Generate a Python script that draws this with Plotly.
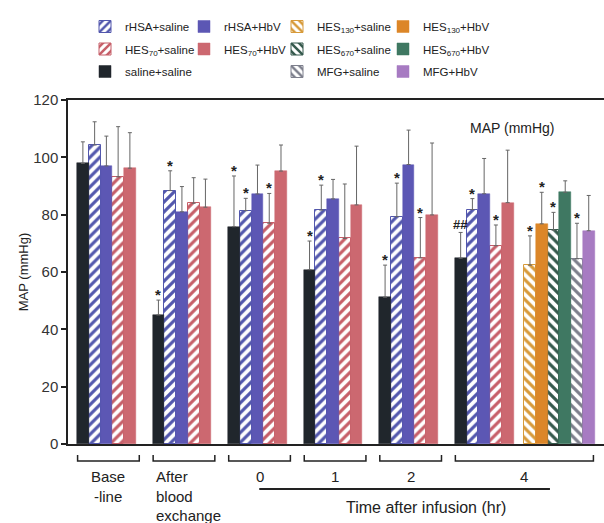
import plotly.graph_objects as go

# ---------------- data ----------------
group_labels = ["Base<br>-line", "After<br>blood<br>exchange", "0", "1", "2", "4"]

saline_saline = [97.9, 45.0, 75.8, 60.8, 51.2, 64.8]
saline_saline_err = [7.5, 5.2, 17.7, 10.0, 11.2, 9.0]
saline_saline_mark = ["", "*", "*", "*", "*", "##"]

rhsa_saline = [104.3, 88.4, 81.4, 81.6, 79.3, 81.8]
rhsa_saline_err = [8.1, 6.9, 4.3, 8.7, 11.7, 3.8]
rhsa_saline_mark = ["", "*", "*", "*", "*", "*"]

rhsa_hbv = [97.0, 81.0, 87.2, 85.5, 97.5, 87.3]
rhsa_hbv_err = [10.4, 8.8, 10.1, 6.8, 12.0, 12.3]
rhsa_hbv_mark = ["", "", "", "", "", ""]

hes70_saline = [93.2, 84.0, 77.0, 71.7, 64.9, 69.2]
hes70_saline_err = [17.5, 8.9, 10.4, 19.0, 14.1, 7.2]
hes70_saline_mark = ["", "", "*", "", "*", "*"]

hes70_hbv = [96.2, 82.6, 95.2, 83.4, 79.9, 84.2]
hes70_hbv_err = [12.4, 9.8, 9.1, 20.5, 25.1, 18.3]
hes70_hbv_mark = ["", "", "", "", "", ""]

# measured at 4 hr only
hes130_saline = [62.4]
hes130_saline_err = [10.2]
hes130_saline_mark = ["*"]
hes130_hbv = [76.8]
hes130_hbv_err = [11.0]
hes130_hbv_mark = ["*"]
hes670_saline = [74.6]
hes670_saline_err = [6.2]
hes670_saline_mark = ["*"]
hes670_hbv = [87.8]
hes670_hbv_err = [4.0]
hes670_hbv_mark = [""]
mfg_saline = [64.6]
mfg_saline_err = [12.4]
mfg_saline_mark = ["*"]
mfg_hbv = [74.4]
mfg_hbv_err = [12.3]
mfg_hbv_mark = [""]

# ---------------- layout helpers ----------------
W, H = 604, 523
ML, MR, MT, MB = 68, 0, 100, 79
PW, PH = W - ML - MR, H - MT - MB
GROUP_STEP = 6.43     # in bar widths
EXTRA_GAP = 0.9
X_RANGE = [-0.766, 44.85]
FONT = "Liberation Sans, Arial, sans-serif"
INK = "#222222"


def py2paper(py):
    return (H - MB - py) / PH


def px2paper(px):
    return (px - ML) / PW


group_start = [i * GROUP_STEP for i in range(len(group_labels))]
all_groups = list(range(len(group_labels)))
last = [len(group_labels) - 1]

series = [
    # name, values, errs, marks, groups, slot, colour, pattern, legend
    ("rHSA+saline", rhsa_saline, rhsa_saline_err, rhsa_saline_mark, all_groups, 1, "#5257ad", "/", "legend"),
    ("HES<sub>70</sub>+saline", hes70_saline, hes70_saline_err, hes70_saline_mark, all_groups, 3, "#c65e68", "/", "legend"),
    ("saline+saline", saline_saline, saline_saline_err, saline_saline_mark, all_groups, 0, "#20262c", "", "legend"),
    ("rHSA+HbV", rhsa_hbv, rhsa_hbv_err, rhsa_hbv_mark, all_groups, 2, "#5c57b4", "", "legend2"),
    ("HES<sub>70</sub>+HbV", hes70_hbv, hes70_hbv_err, hes70_hbv_mark, all_groups, 4, "#cc6870", "", "legend2"),
    ("HES<sub>130</sub>+saline", hes130_saline, hes130_saline_err, hes130_saline_mark, last, 5, "#d79a3a", "\\", "legend3"),
    ("HES<sub>670</sub>+saline", hes670_saline, hes670_saline_err, hes670_saline_mark, last, 7, "#35594c", "\\", "legend3"),
    ("MFG+saline", mfg_saline, mfg_saline_err, mfg_saline_mark, last, 9, "#7d7f8c", "\\", "legend3"),
    ("HES<sub>130</sub>+HbV", hes130_hbv, hes130_hbv_err, hes130_hbv_mark, last, 6, "#dc8628", "", "legend4"),
    ("HES<sub>670</sub>+HbV", hes670_hbv, hes670_hbv_err, hes670_hbv_mark, last, 8, "#3f7862", "", "legend4"),
    ("MFG+HbV", mfg_hbv, mfg_hbv_err, mfg_hbv_mark, last, 10, "#a77bc2", "", "legend4"),
]


def bar_x(g, slot):
    extra = EXTRA_GAP if slot >= 5 else 0.0
    return group_start[g] + slot + extra + 0.5


fig = go.Figure()
annotations = []
for name, vals, errs, marks, grps, slot, col, pat, leg in series:
    xs = [bar_x(g, slot) for g in grps]
    if pat:
        marker = dict(color="white",
                      pattern=dict(shape=pat, fgcolor=col, bgcolor="white",
                                   size=7, solidity=0.45, fillmode="replace"),
                      line=dict(color=col, width=1))
    else:
        marker = dict(color=col, line=dict(color=col, width=0.5))
    fig.add_trace(go.Bar(
        x=xs, y=vals, width=1.0, name=name, marker=marker,
        legend=leg, legendgroup=name,
        error_y=dict(type="data", array=errs, arrayminus=[0] * len(errs),
                     symmetric=False, color="#666666", thickness=1, width=2),
        hoverinfo="x+y",
    ))
    for x, v, e, m in zip(xs, vals, errs, marks):
        if m:
            annotations.append(dict(
                x=x, y=v + e, xref="x", yref="y", text=("<b>%s</b>" % m),
                showarrow=False, yanchor="bottom", xanchor="center",
                yshift=-5 if m == "*" else -2,
                font=dict(family=FONT, size=15 if m == "*" else 13, color=INK)))

# group brackets and labels below the axis
shapes = []
n_bars = [5, 5, 5, 5, 5, 5 + EXTRA_GAP + 6]
y_br = py2paper(461)
y_up = py2paper(455)
for g, lab in enumerate(group_labels):
    x0 = group_start[g] + 0.05
    x1 = group_start[g] + n_bars[g] + (0.3 if g < 5 else -0.1)
    shapes.append(dict(type="path", xref="x", yref="paper",
                       path="M %f,%f L %f,%f L %f,%f L %f,%f" % (x0, y_up, x0, y_br, x1, y_br, x1, y_up),
                       line=dict(color=INK, width=1.5)))
    if g == 1:
        annotations.append(dict(x=x0 + 0.1, y=py2paper(466), xref="x", yref="paper",
                                text=lab, showarrow=False, xanchor="left", yanchor="top",
                                align="left", font=dict(family=FONT, size=15, color=INK)))
    else:
        annotations.append(dict(x=(x0 + x1) / 2, y=py2paper(466), xref="x", yref="paper",
                                text=lab, showarrow=False, xanchor="center", yanchor="top",
                                align="center", font=dict(family=FONT, size=15, color=INK)))

# "Time after infusion" line and label
t0 = (group_start[2] + group_start[2] + 5.3) / 2
t1 = group_start[5] + 8.1
shapes.append(dict(type="line", xref="x", yref="paper", x0=t0, x1=t1,
                   y0=py2paper(489), y1=py2paper(489), line=dict(color=INK, width=2)))
annotations.append(dict(x=(t0 + t1) / 2 + 1.8, y=py2paper(507), xref="x", yref="paper",
                        text="Time after infusion (hr)", showarrow=False,
                        xanchor="center", yanchor="middle",
                        font=dict(family=FONT, size=16, color=INK)))

annotations.append(dict(x=px2paper(512), y=py2paper(128), xref="paper", yref="paper",
                        text="MAP (mmHg)", showarrow=False, xanchor="center", yanchor="middle",
                        font=dict(family=FONT, size=14, color=INK)))

legend_common = dict(orientation="v", xanchor="left", yanchor="top",
                     bgcolor="rgba(0,0,0,0)", tracegroupgap=3.5,
                     font=dict(family=FONT, size=11.5, color=INK))
leg_y = py2paper(12)

fig.update_layout(
    width=W, height=H,
    margin=dict(l=ML, r=MR, t=MT, b=MB, pad=0, autoexpand=False),
    paper_bgcolor="white", plot_bgcolor="white",
    barmode="overlay", bargap=0,
    font=dict(family=FONT, color=INK),
    xaxis=dict(range=X_RANGE, showticklabels=False, ticks="", showgrid=False, automargin=False,
               zeroline=False, showline=True, mirror=True, linecolor=INK, linewidth=1.5),
    yaxis=dict(range=[0, 120], tickvals=[0, 20, 40, 60, 80, 100, 120], automargin=False,
               ticks="outside", ticklen=5, tickwidth=1.5, tickcolor=INK,
               showgrid=False, zeroline=False, showline=True, linecolor=INK, linewidth=1.5,
               tickfont=dict(family=FONT, size=15, color="#333333"),
               title=dict(text="MAP (mmHg)", standoff=2,
                          font=dict(family=FONT, size=13, color=INK))),
    legend=dict(x=px2paper(85), y=leg_y, **legend_common),
    legend2=dict(x=px2paper(184), y=leg_y, **legend_common),
    legend3=dict(x=px2paper(277), y=leg_y, **legend_common),
    legend4=dict(x=px2paper(383), y=leg_y, **legend_common),
    shapes=shapes,
    annotations=annotations,
)

fig.write_html("out.html", config={"displayModeBar": False},
               post_script="document.body.style.margin='0';")
